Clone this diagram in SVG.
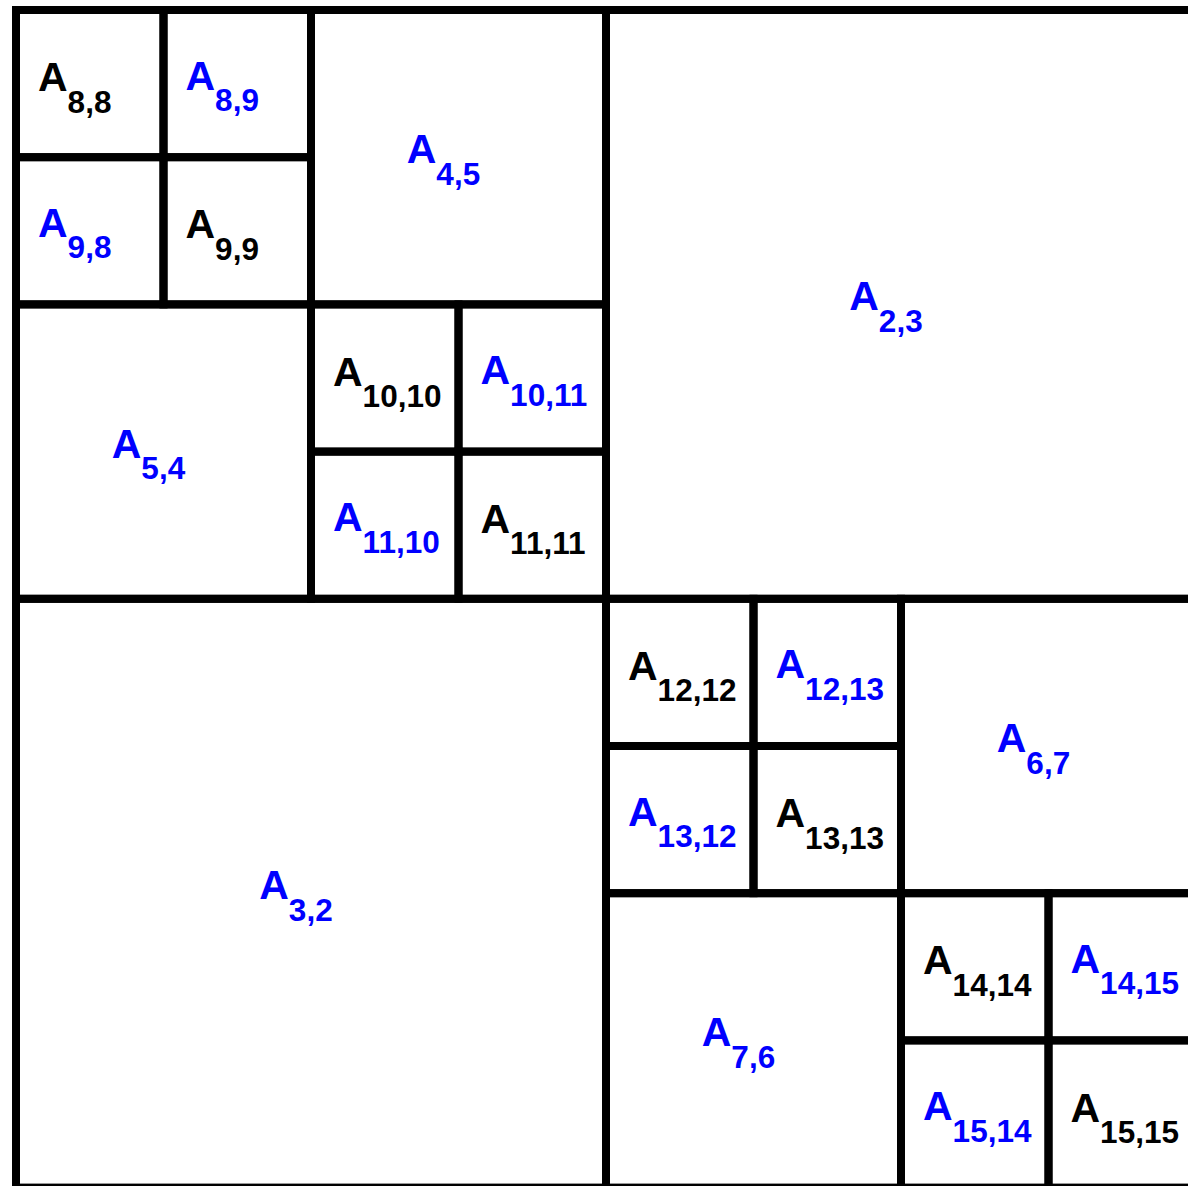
<svg xmlns="http://www.w3.org/2000/svg" width="1188" height="1186" viewBox="0 0 1188 1186">
<style>
.cell{fill:none;stroke:#000;stroke-width:8}
.lbl{font-family:"Liberation Sans",Arial,sans-serif;font-weight:bold;font-size:41px}
.k{fill:#000}
.b{fill:#0000ff}
.sub{font-size:31.5px}
</style>
<rect width="1188" height="1186" fill="#fff"/>
<g id="A8_8"><rect class="cell" x="16" y="10" width="147.5" height="147.2"/><text class="lbl k" x="38" y="91.1">A<tspan class="sub" dy="21.5">8,8</tspan></text></g>
<g id="A8_9"><rect class="cell" x="163.5" y="10" width="147.5" height="147.2"/><text class="lbl b" x="185.5" y="89.6">A<tspan class="sub" dy="21.5">8,9</tspan></text></g>
<g id="A9_8"><rect class="cell" x="16" y="157.2" width="147.5" height="147.2"/><text class="lbl b" x="38" y="236.8">A<tspan class="sub" dy="21.5">9,8</tspan></text></g>
<g id="A9_9"><rect class="cell" x="163.5" y="157.2" width="147.5" height="147.2"/><text class="lbl k" x="185.5" y="238.3">A<tspan class="sub" dy="21.5">9,9</tspan></text></g>
<g id="A4_5"><rect class="cell" x="311" y="10" width="295" height="294.4"/><text class="lbl b" x="406.75" y="163.2">A<tspan class="sub" dy="21.5">4,5</tspan></text></g>
<g id="A5_4"><rect class="cell" x="16" y="304.4" width="295" height="294.4"/><text class="lbl b" x="111.75" y="457.6">A<tspan class="sub" dy="21.5">5,4</tspan></text></g>
<g id="A10_10"><rect class="cell" x="311" y="304.4" width="147.5" height="147.2"/><text class="lbl k" x="333" y="385.5">A<tspan class="sub" dy="21.5">10,10</tspan></text></g>
<g id="A10_11"><rect class="cell" x="458.5" y="304.4" width="147.5" height="147.2"/><text class="lbl b" x="480.5" y="384">A<tspan class="sub" dy="21.5">10,11</tspan></text></g>
<g id="A11_10"><rect class="cell" x="311" y="451.6" width="147.5" height="147.2"/><text class="lbl b" x="333" y="531.2">A<tspan class="sub" dy="21.5">11,10</tspan></text></g>
<g id="A11_11"><rect class="cell" x="458.5" y="451.6" width="147.5" height="147.2"/><text class="lbl k" x="480.5" y="532.7">A<tspan class="sub" dy="21.5">11,11</tspan></text></g>
<g id="A2_3"><rect class="cell" x="606" y="10" width="590" height="588.8"/><text class="lbl b" x="849.25" y="310.4">A<tspan class="sub" dy="21.5">2,3</tspan></text></g>
<g id="A3_2"><rect class="cell" x="16" y="598.8" width="590" height="588.8"/><text class="lbl b" x="259.25" y="899.2">A<tspan class="sub" dy="21.5">3,2</tspan></text></g>
<g id="A12_12"><rect class="cell" x="606" y="598.8" width="147.5" height="147.2"/><text class="lbl k" x="628" y="679.9">A<tspan class="sub" dy="21.5">12,12</tspan></text></g>
<g id="A12_13"><rect class="cell" x="753.5" y="598.8" width="147.5" height="147.2"/><text class="lbl b" x="775.5" y="678.4">A<tspan class="sub" dy="21.5">12,13</tspan></text></g>
<g id="A13_12"><rect class="cell" x="606" y="746" width="147.5" height="147.2"/><text class="lbl b" x="628" y="825.6">A<tspan class="sub" dy="21.5">13,12</tspan></text></g>
<g id="A13_13"><rect class="cell" x="753.5" y="746" width="147.5" height="147.2"/><text class="lbl k" x="775.5" y="827.1">A<tspan class="sub" dy="21.5">13,13</tspan></text></g>
<g id="A6_7"><rect class="cell" x="901" y="598.8" width="295" height="294.4"/><text class="lbl b" x="996.75" y="752">A<tspan class="sub" dy="21.5">6,7</tspan></text></g>
<g id="A7_6"><rect class="cell" x="606" y="893.2" width="295" height="294.4"/><text class="lbl b" x="701.75" y="1046.4">A<tspan class="sub" dy="21.5">7,6</tspan></text></g>
<g id="A14_14"><rect class="cell" x="901" y="893.2" width="147.5" height="147.2"/><text class="lbl k" x="923" y="974.3">A<tspan class="sub" dy="21.5">14,14</tspan></text></g>
<g id="A14_15"><rect class="cell" x="1048.5" y="893.2" width="147.5" height="147.2"/><text class="lbl b" x="1070.5" y="972.8">A<tspan class="sub" dy="21.5">14,15</tspan></text></g>
<g id="A15_14"><rect class="cell" x="901" y="1040.4" width="147.5" height="147.2"/><text class="lbl b" x="923" y="1120">A<tspan class="sub" dy="21.5">15,14</tspan></text></g>
<g id="A15_15"><rect class="cell" x="1048.5" y="1040.4" width="147.5" height="147.2"/><text class="lbl k" x="1070.5" y="1121.5">A<tspan class="sub" dy="21.5">15,15</tspan></text></g>
<g id="connectors"></g>
</svg>
